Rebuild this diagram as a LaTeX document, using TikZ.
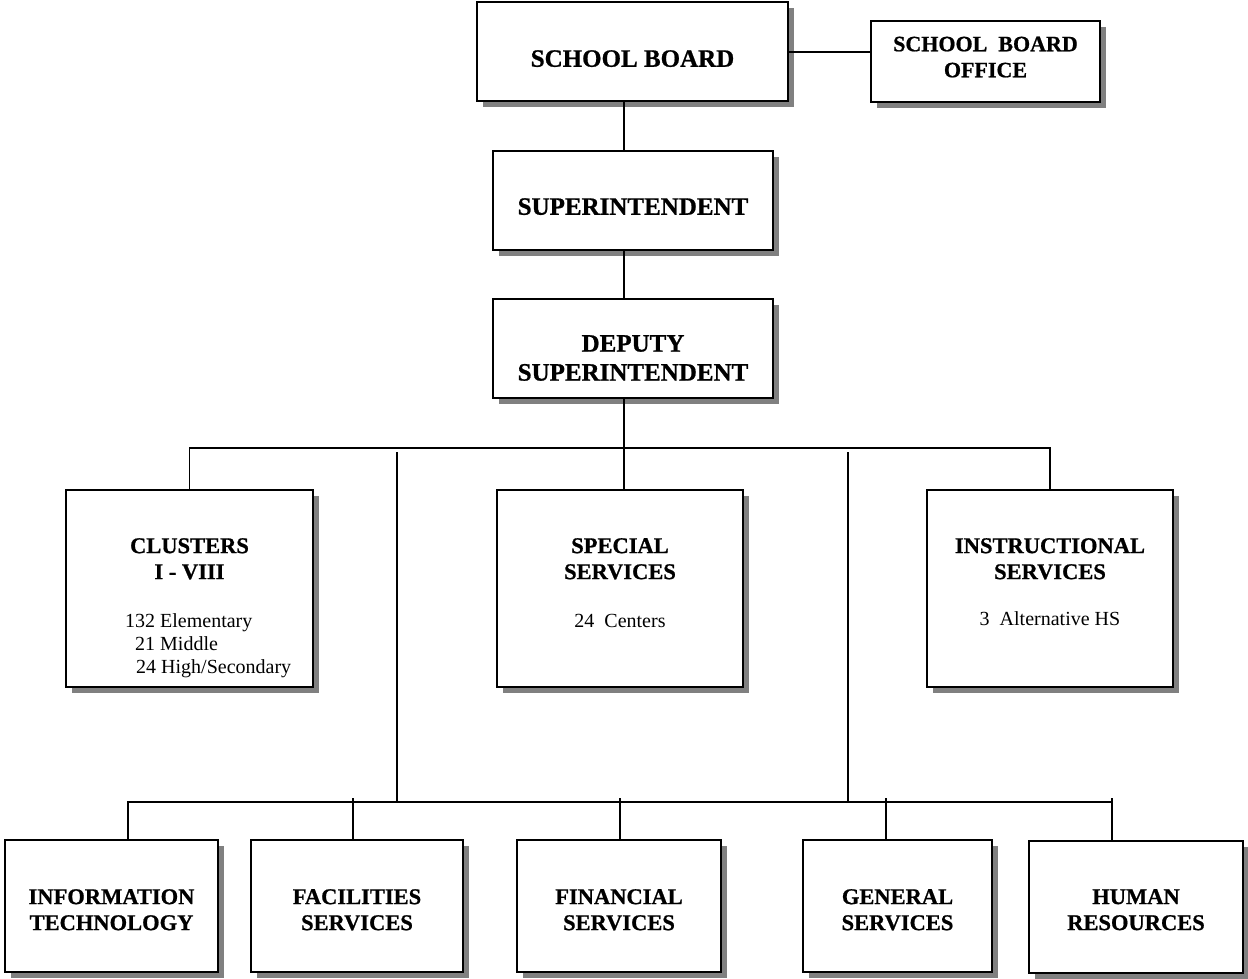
\documentclass[tikz,border=0pt]{standalone}
\usepackage{fontspec}
\setmainfont{Liberation Serif}[BoldFeatures={FakeBold=0.8}]
\newcommand\obox[5]{%
  \fill[shadowfill] (#2+6,#3+6) rectangle (#4+6,#5+6);
  \node[box, minimum width={#4-#2}, minimum height={#5-#3}] (#1) at ({(#2+#4)/2},{(#3+#5)/2}) {};
}
\begin{document}
\begin{tikzpicture}[x=1pt,y=-1pt,
  box/.style={draw=black,line width=2pt,fill=white,inner sep=0pt,outer sep=0pt},
  shadowfill/.style={fill=black!50,draw=none},
  conn/.style={draw=black,line width=1.5pt},
  ttlA/.style={font=\bfseries\fontsize{25}{29}\selectfont,align=center,inner sep=0pt,anchor=north},
  ttlS/.style={font=\bfseries\fontsize{22}{26}\selectfont,align=center,inner sep=0pt,anchor=north},
  ttlB/.style={font=\bfseries\fontsize{22.5}{26}\selectfont,align=center,inner sep=0pt,anchor=north},
  body/.style={font=\fontsize{20}{23}\selectfont,inner sep=0pt},
]
\useasboundingbox[fill=white] (0,0) rectangle (1248,979);

% boxes
\obox{sb}{477}{2}{788}{101}
\obox{sbo}{871}{21}{1100}{102}
\obox{sup}{493}{151}{773}{250}
\obox{dep}{493}{299}{773}{398}
\obox{cl}{66}{490}{313}{687}
\obox{sp}{497}{490}{743}{687}
\obox{inst}{927}{490}{1173}{687}
\obox{it}{5}{840}{218}{972}
\obox{fac}{251}{840}{463}{972}
\obox{fin}{517}{840}{721}{972}
\obox{gen}{803}{840}{992}{972}
\obox{hr}{1029}{841}{1243}{973}

% titles
\node[ttlA] (sbT) at (632.5,50) {SCHOOL BOARD};
\node[ttlS] (sboT) at (985.5,36.5) {SCHOOL\ \ BOARD\\OFFICE};
\node[ttlA] (supT) at (633,198) {SUPERINTENDENT};
\node[ttlA] (depT) at (633,335) {DEPUTY\\SUPERINTENDENT};
\node[ttlB] (clT) at (189.5,538) {CLUSTERS\\I - VIII};
\node[ttlB] (spT) at (620,538) {SPECIAL\\SERVICES};
\node[ttlB] (instT) at (1050,538) {INSTRUCTIONAL\\SERVICES};
\node[ttlB] (itT) at (111.5,889) {INFORMATION\\TECHNOLOGY};
\node[ttlB] (facT) at (357,889) {FACILITIES\\SERVICES};
\node[ttlB] (finT) at (619,889) {FINANCIAL\\SERVICES};
\node[ttlB] (genT) at (897.5,889) {GENERAL\\SERVICES};
\node[ttlB] (hrT) at (1136,889) {HUMAN\\RESOURCES};

% body texts
\node[body,anchor=base west] (cl1) at (125,627) {132 Elementary};
\node[body,anchor=base west] (cl2) at (135,650) {21 Middle};
\node[body,anchor=base west] (cl3) at (136,673) {24 High/Secondary};
\node[body,anchor=base] (spB) at (620,627) {24\ \ Centers};
\node[body,anchor=base] (instB) at (1050,625) {3\ \ Alternative HS};

% connector helper coordinates
\coordinate (spine) at (624,0);
\coordinate (sbline) at (0,52);
\coordinate (busA) at (0,448);
\coordinate (legL) at (397,452);
\coordinate (legR) at (848,452);
\coordinate (busB) at (0,802);
\coordinate (busT) at (0,798);
\coordinate (itx) at (128,0);
\coordinate (facx) at (353,0);
\coordinate (finx) at (620,0);
\coordinate (genx) at (886,0);
\coordinate (hrx) at (1112,0);

% connectors
\draw[conn] (sb.east |- sbline) -- (sbo.west |- sbline);
\draw[conn] (sb.south -| spine) -- (sup.north -| spine);
\draw[conn] (sup.south -| spine) -- (dep.north -| spine);
\draw[conn] (dep.south -| spine) -- (busA -| spine) -- (sp.north -| spine);
\draw[conn] (cl.north) -- (cl.north |- busA) -- (inst.north |- busA) -- (inst.north);
\draw[conn] (legL) -- (legL |- busB);
\draw[conn] (legR) -- (legR |- busB);
\draw[conn] (it.north -| itx) -- (busB -| itx) -- (busB -| hrx);
\draw[conn] (busT -| facx) -- (fac.north -| facx);
\draw[conn] (busT -| finx) -- (fin.north -| finx);
\draw[conn] (busT -| genx) -- (gen.north -| genx);
\draw[conn] (busT -| hrx) -- (hr.north -| hrx);
\end{tikzpicture}
\end{document}
